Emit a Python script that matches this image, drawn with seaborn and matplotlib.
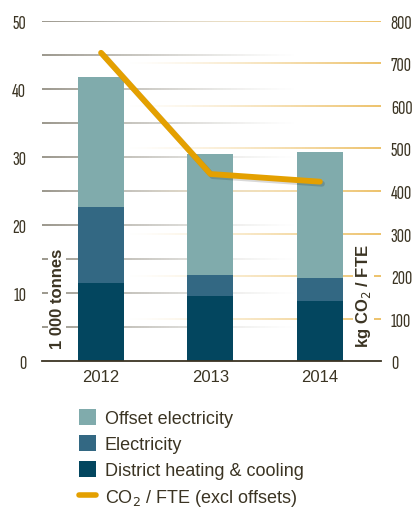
"""
Emissions chart: stacked bars (1 000 tonnes) with CO2 / FTE line
"""
import numpy as np
import pandas as pd
import matplotlib
matplotlib.use("Agg")
import matplotlib.pyplot as plt
import seaborn as sns
from matplotlib.collections import LineCollection
from matplotlib.patches import Patch
from matplotlib.lines import Line2D
from matplotlib import patheffects
from matplotlib.colors import to_rgba

# data
years = ["2012", "2013", "2014"]
district = [11.5, 9.6, 8.8]
electricity = [11.1, 3.1, 3.4]
offset = [19.2, 17.7, 18.5]
co2_per_fte = [725, 440, 422]

left_ticks = [0, 10, 20, 30, 40, 50]
right_ticks = [0, 100, 200, 300, 400, 500, 600, 700, 800]

c_offset = "#80abac"
c_elec = "#336883"
c_district = "#03465f"
c_line = "#e4a000"
c_text = "#3b3423"

sns.set_style("white")
plt.rcParams["font.family"] = ["Liberation Sans", "DejaVu Sans"]
narrow = ["Sofia Sans Extra Condensed", "Fira Sans Extra Condensed", "DejaVu Sans"]

df = pd.DataFrame({
    "year": years,
    "district": district,
    "elec_top": np.add(district, electricity),
    "total": np.add(np.add(district, electricity), offset),
    "co2": co2_per_fte,
})

fig = plt.figure(figsize=(4.12, 5.10), dpi=100)
ax = fig.add_axes([0.102, 0.290, 0.823, 0.667])

# gradient grid lines, left (grey) fade to right, right (gold) fade to left
def fade_line(ax, y, color, from_left, n=120, span=0.7):
    xs = np.linspace(0, 1, n + 1)
    segs = [[(xs[i], y), (xs[i + 1], y)] for i in range(n)]
    mid = (xs[:-1] + xs[1:]) / 2
    d = mid if from_left else 1 - mid
    a = np.clip(1 - d / span, 0, 1) ** 1.3
    rgba = np.array([to_rgba(color, alpha=v) for v in a])
    lc = LineCollection(segs, colors=rgba, linewidths=1.1,
                        transform=ax.get_yaxis_transform(), zorder=0.5)
    ax.add_collection(lc)

for v in np.arange(5, 51, 5):
    fade_line(ax, v, "#7f7a6c", True, span=0.75)
for v in right_ticks[1:]:
    fade_line(ax, v * 50 / 800, "#e8b040", False, span=0.75)

# stacked bars
for col, c in [("total", c_offset), ("elec_top", c_elec), ("district", c_district)]:
    sns.barplot(data=df, x="year", y=col, color=c, width=0.42, saturation=1,
                linewidth=0, ax=ax, zorder=2)

ax.set_xlim(-0.54, 2.56)
ax.set_ylim(0, 50)
ax.set_yticks(left_ticks)
ax.set_xlabel("")
ax.set_ylabel("")
for s in ["top", "left", "right"]:
    ax.spines[s].set_visible(False)
ax.spines["bottom"].set_color(c_text)
ax.spines["bottom"].set_linewidth(1.3)
ax.spines["bottom"].set_zorder(3)
ax.tick_params(axis="y", length=0, pad=11.5, labelcolor=c_text)
ax.tick_params(axis="x", length=0, pad=6, labelcolor=c_text, labelsize=12)
for t in ax.get_yticklabels():
    t.set_family(narrow)
    t.set_fontsize(14.5)
    t.set_fontweight("medium")

ax.text(0.045, 0.185, "1 000 tonnes", transform=ax.transAxes, rotation=90,
        ha="center", va="center", fontsize=12, fontweight="bold", color=c_text,
        bbox=dict(facecolor="white", edgecolor="none", pad=1), zorder=4)

# line on secondary axis
ax2 = ax.twinx()
sns.lineplot(data=df, x="year", y="co2", color=c_line, linewidth=4.2,
             solid_capstyle="round", ax=ax2, sort=False,
             path_effects=[patheffects.SimpleLineShadow(offset=(1.5, -1.5), alpha=0.15),
                           patheffects.Normal()])
ax2.set_ylim(0, 800)
ax2.set_yticks(right_ticks)
ax2.set_ylabel("")
for s in ["top", "left", "right", "bottom"]:
    ax2.spines[s].set_visible(False)
ax2.tick_params(axis="y", length=0, pad=7, labelcolor=c_text)
for t in ax2.get_yticklabels():
    t.set_family(narrow)
    t.set_fontsize(14.5)
    t.set_fontweight("medium")

ax2.text(0.948, 0.195, "kg CO$_2$ / FTE", transform=ax2.transAxes, rotation=90,
         ha="center", va="center", fontsize=12, fontweight="bold", color=c_text,
         bbox=dict(facecolor="white", edgecolor="none", pad=1), zorder=4)

# legend
handles = [
    Patch(facecolor=c_offset, edgecolor="none"),
    Patch(facecolor=c_elec, edgecolor="none"),
    Patch(facecolor=c_district, edgecolor="none"),
    Line2D([0], [0], color=c_line, lw=4, solid_capstyle="round"),
]
labels = ["Offset electricity", "Electricity", "District heating & cooling",
          "CO$_2$ / FTE (excl offsets)"]
fig.legend(handles, labels, loc="upper left", bbox_to_anchor=(0.175, 0.21),
           frameon=False, fontsize=13, handlelength=0.95, handleheight=0.95,
           handletextpad=0.45, labelspacing=0.45, labelcolor=c_text,
           borderaxespad=0)

fig.savefig("out.png", dpi=100)
